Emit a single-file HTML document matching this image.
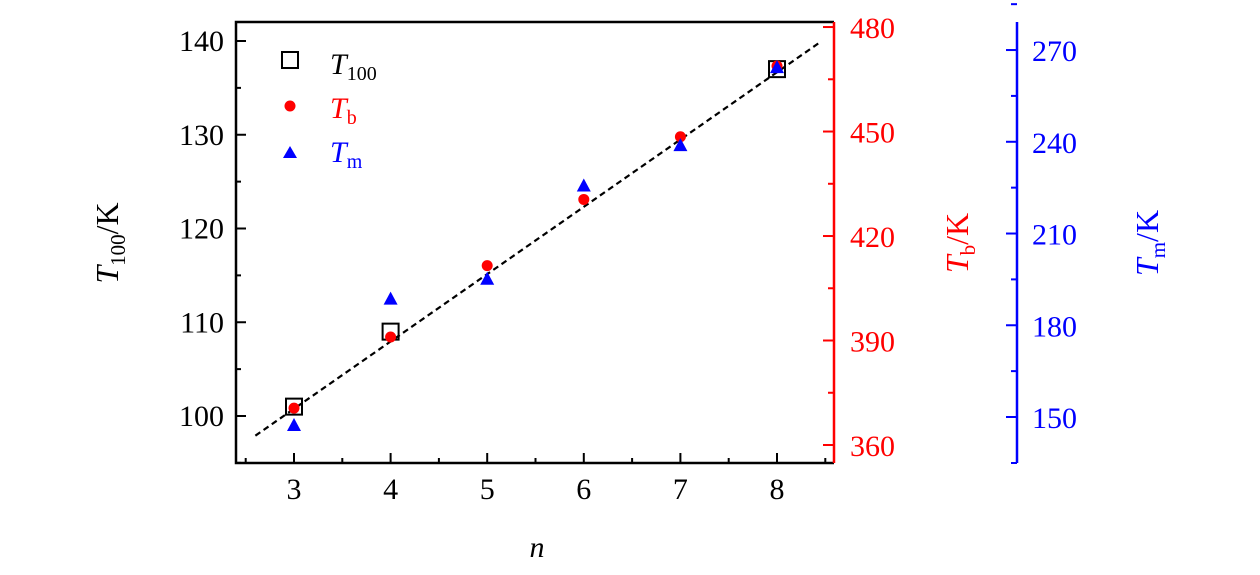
<!DOCTYPE html>
<html><head><meta charset="utf-8"><style>
html,body{margin:0;padding:0;background:#fff;}
svg{display:block;font-family:"Liberation Serif",serif;}
</style></head><body>
<svg id="chart" width="1260" height="575">
<g id="axes"></g><g id="marks"></g>
<g>
 <rect x="282" y="52" width="16" height="16" fill="none" stroke="#000" stroke-width="2"/>
 <text x="330" y="74" font-size="30" font-style="italic">T<tspan font-size="20" font-style="normal" dy="6">100</tspan></text>
 <circle cx="290" cy="106" r="5.5" fill="#f00"/>
 <text x="330" y="118" font-size="30" font-style="italic" fill="#f00">T<tspan font-size="20" font-style="normal" dy="6">b</tspan></text>
 <polygon points="290,146 297,158 283,158" fill="#00f"/>
 <text x="330" y="162" font-size="30" font-style="italic" fill="#00f">T<tspan font-size="20" font-style="normal" dy="6">m</tspan></text>
</g>
<text x="537" y="557" font-size="30" font-style="italic" text-anchor="middle">n</text>
<text transform="translate(118,243) rotate(-90)" font-size="32" text-anchor="middle"><tspan font-style="italic">T</tspan><tspan font-size="21" dy="7">100</tspan><tspan dy="-7">/K</tspan></text>
<text transform="translate(968,243) rotate(-90)" font-size="32" text-anchor="middle" fill="#f00"><tspan font-style="italic">T</tspan><tspan font-size="21" dy="7">b</tspan><tspan dy="-7">/K</tspan></text>
<text transform="translate(1158,243) rotate(-90)" font-size="32" text-anchor="middle" fill="#00f"><tspan font-style="italic">T</tspan><tspan font-size="21" dy="7">m</tspan><tspan dy="-7">/K</tspan></text>
</svg>
<script>
const nValues=[3,4,5,6,7,8];
const t100N=[3,4,8];
const t100Values=[101,109,137];
const tbValues=[370.6,391,411.5,430.5,448.5,468.8];
const tmValues=[147.4,188.7,195.2,225.7,238.9,264.4];
const fitN=[2.6,8.45];
const fitValues=[97.9,139.9];
const xTicks=[3,4,5,6,7,8];
const leftTicks=[100,110,120,130,140];
const redTicks=[360,390,420,450,480];
const blueTicks=[150,180,210,240,270];

const NS="http://www.w3.org/2000/svg";
const L=236,R=834,T=22,B=463,BX=1017;
const x=v=>294+(v-3)*96.6;
const yL=v=>416-(v-100)*9.375;
const yR=v=>445-(v-360)*3.483;
const yB=v=>417-(v-150)*3.058;
function mk(tag,attrs,parent){const e=document.createElementNS(NS,tag);for(const k in attrs)e.setAttribute(k,attrs[k]);parent.appendChild(e);return e;}
const ax=document.getElementById('axes'),mg=document.getElementById('marks');
let e;
e=mk('polyline',{points:`${R},${T} ${L},${T} ${L},${B} ${R},${B}`,fill:'none',stroke:'#000','stroke-width':2.5},ax);


e=mk('line',{x1:R,y1:T,x2:R,y2:B,stroke:'#f00','stroke-width':2.5},ax);


e=mk('line',{x1:BX,y1:T,x2:BX,y2:B,stroke:'#00f','stroke-width':2.5},ax);


// x ticks
xTicks.forEach(v=>{
 mk('line',{x1:x(v),y1:B,x2:x(v),y2:B-10,stroke:'#000','stroke-width':2},ax);
 mk('line',{x1:x(v+0.5),y1:B,x2:x(v+0.5),y2:B-5,stroke:'#000','stroke-width':2},ax);
 e=mk('text',{x:x(v),y:B+36,'font-size':30,'text-anchor':'middle'},ax);e.textContent=v;
 
 
});
mk('line',{x1:x(2.5),y1:B,x2:x(2.5),y2:B-5,stroke:'#000','stroke-width':2},ax);
leftTicks.forEach(v=>{
 mk('line',{x1:L,y1:yL(v),x2:L+10,y2:yL(v),stroke:'#000','stroke-width':2},ax);
 mk('line',{x1:L,y1:yL(v+5),x2:L+5,y2:yL(v+5),stroke:'#000','stroke-width':2},ax);
 e=mk('text',{x:L-12,y:yL(v)+10,'font-size':30,'text-anchor':'end'},ax);e.textContent=v;
 
 
});
mk('line',{x1:L,y1:yL(95),x2:L+5,y2:yL(95),stroke:'#000','stroke-width':2},ax);
redTicks.forEach(v=>{
 mk('line',{x1:R,y1:yR(v),x2:R-11,y2:yR(v),stroke:'#f00','stroke-width':2},ax);
 if(v<480)mk('line',{x1:R,y1:yR(v+15),x2:R-6,y2:yR(v+15),stroke:'#f00','stroke-width':2},ax);
 e=mk('text',{x:R+16,y:yR(v)+11,'font-size':30,fill:'#f00'},ax);e.textContent=v;
 
 
});
blueTicks.forEach(v=>{
 mk('line',{x1:BX,y1:yB(v),x2:BX-11,y2:yB(v),stroke:'#00f','stroke-width':2},ax);
 mk('line',{x1:BX,y1:yB(v+15),x2:BX-6,y2:yB(v+15),stroke:'#00f','stroke-width':2},ax);
 e=mk('text',{x:BX+15,y:yB(v)+11,'font-size':30,fill:'#00f'},ax);e.textContent=v;
 
 
});
mk('line',{x1:BX,y1:B,x2:BX-6,y2:B,stroke:'#00f','stroke-width':2},ax);
e=mk('line',{x1:x(fitN[0]),y1:yL(fitValues[0]),x2:x(fitN[1]),y2:yL(fitValues[1]),stroke:'#000','stroke-width':2.2,'stroke-dasharray':'6,4'},mg);


t100N.forEach((n,i)=>{
 e=mk('rect',{x:x(n)-8,y:yL(t100Values[i])-8,width:16,height:16,fill:'none',stroke:'#000','stroke-width':2},mg);
 
 
});
nValues.forEach((n,i)=>{
 e=mk('circle',{cx:x(n),cy:yR(tbValues[i]),r:5.5,fill:'#f00'},mg);
 
 
 const cx=x(n),cy=yB(tmValues[i]);
 e=mk('polygon',{points:`${cx},${cy-7} ${cx+7},${cy+6} ${cx-7},${cy+6}`,fill:'#00f'},mg);
 
 
});
</script>
</body></html>
